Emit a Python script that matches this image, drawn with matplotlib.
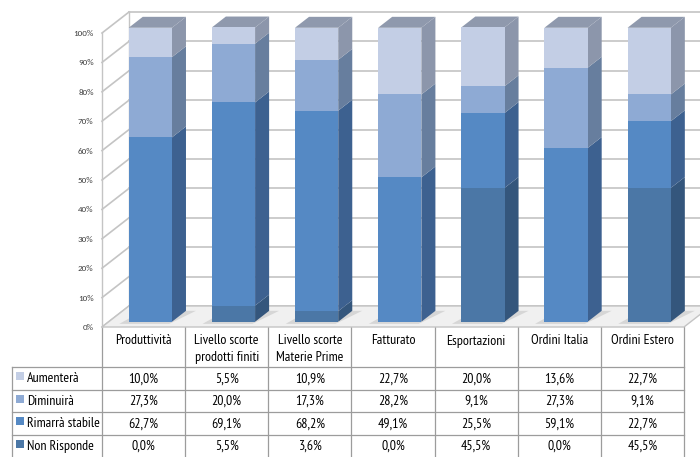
import numpy as np
import matplotlib
matplotlib.use("Agg")
import matplotlib.pyplot as plt
from matplotlib.patches import Polygon, Rectangle

# ---------------- data ----------------
categories = ["Produttività", "Livello scorte\nprodotti finiti", "Livello scorte\nMaterie Prime",
              "Fatturato", "Esportazioni", "Ordini Italia", "Ordini Estero"]
series_names = ["Aumenterà", "Diminuirà", "Rimarrà stabile", "Non Risponde"]
aumentera = [10.0, 5.5, 10.9, 22.7, 20.0, 13.6, 22.7]
diminuira = [27.3, 20.0, 17.3, 28.2, 9.1, 27.3, 9.1]
rimarra_stabile = [62.7, 69.1, 68.2, 49.1, 25.5, 59.1, 22.7]
non_risponde = [0.0, 5.5, 3.6, 0.0, 45.5, 0.0, 45.5]
y_ticks = list(range(0, 101, 10))
y_tick_labels = [f"{v}%" for v in y_ticks]

front_colors = {"Aumenterà": "#c3cee5", "Diminuirà": "#8eaad4",
                "Rimarrà stabile": "#5589c4", "Non Risponde": "#4b77a6"}
side_colors = {"Aumenterà": "#8c96ab", "Diminuirà": "#677e9e",
               "Rimarrà stabile": "#3d6190", "Non Risponde": "#34567c"}
top_color = "#8f99ad"

values = {"Aumenterà": aumentera, "Diminuirà": diminuira,
          "Rimarrà stabile": rimarra_stabile, "Non Risponde": non_risponde}
stack_order = ["Non Risponde", "Rimarrà stabile", "Diminuirà", "Aumenterà"]

TFONT = ["PT Sans Narrow", "DejaVu Sans"]
TICKFONT = ["Carlito", "Liberation Sans", "DejaVu Sans"]
FS = 10

# ---------------- figure ----------------
W, H = 700, 457
fig = plt.figure(figsize=(W / 100, H / 100), dpi=100)
fig.patch.set_facecolor("white")

axt = fig.add_axes([0, 0, 1, 1])
axt.set_xlim(0, W)
axt.set_ylim(H, 0)
axt.axis("off")

L, R, B, T = 102, 684, 327, 33
ax = fig.add_axes([L / W, (H - B) / H, (R - L) / W, (B - T) / H])
ax.set_xlim(-0.5, len(categories) - 0.5)
ax.set_ylim(0, 100)
ax.set_facecolor("none")
for s in ax.spines.values():
    s.set_visible(False)
ax.set_xticks([])
ax.set_yticks(y_ticks)
ax.set_yticklabels(y_tick_labels, fontsize=6.5, color="#404040", family=TICKFONT)
ax.tick_params(axis="y", length=0, pad=6)

o = ax.transData.transform((0, 0))
DX, DY = ax.transData.inverted().transform(o + np.array([27.0, 21.0]))


def P(x, y, d):
    return (x + d * DX, y + d * DY)


n = len(categories)
grid_c = "#c4c4c4"
for v in y_ticks:
    x0, y0 = P(-0.5, v, 1)
    x1, y1 = P(n + 0.5, v, 1)
    ax.plot([x0, x1], [y0, y1], color=grid_c, lw=1.2, clip_on=False, zorder=1)
    xa, ya = P(-0.5, v, 0)
    ax.plot([xa, x0], [ya, y0], color=grid_c, lw=1.2, clip_on=False, zorder=1)
for d in (0, 1):
    xa, ya = P(-0.5, 0, d)
    xb, yb = P(-0.5, 100, d)
    ax.plot([xa, xb], [ya, yb], color=grid_c, lw=1.0, clip_on=False, zorder=1)

floor = Polygon([P(-0.5, 0, 0), P(n - 0.5, 0, 0), P(n - 0.5, 0, 1), P(-0.5, 0, 1)],
                closed=True, facecolor="#f0f0f0", edgecolor=grid_c, lw=1.0,
                clip_on=False, zorder=1.5)
ax.add_patch(floor)

w = 0.52
d0, d1 = 0.25, 0.77
xs = np.arange(n)
for i in range(n):
    sh = Polygon([P(xs[i] - w / 2 - 0.08, 0, d0 - 0.1), P(xs[i] + w / 2, 0, d0 - 0.1),
                  P(xs[i] + w / 2 + 0.12, 0, d1), P(xs[i] - w / 2, 0, d1)],
                 closed=True, facecolor="#d6d6d6", edgecolor="none", clip_on=False, zorder=1.8)
    ax.add_patch(sh)

bottom = np.zeros(n)
for name in stack_order:
    vals = np.array(values[name])
    fx, fy = P(xs, bottom, d0)
    ax.bar(fx, vals, bottom=fy, width=w, color=front_colors[name], edgecolor="none",
           clip_on=False, zorder=3)
    for i in range(n):
        if vals[i] <= 0:
            continue
        xr = xs[i] + w / 2
        side = Polygon([P(xr, bottom[i], d0), P(xr, bottom[i], d1),
                        P(xr, bottom[i] + vals[i], d1), P(xr, bottom[i] + vals[i], d0)],
                       closed=True, facecolor=side_colors[name], edgecolor="none",
                       clip_on=False, zorder=2.5)
        ax.add_patch(side)
    bottom = bottom + vals

for i in range(n):
    top = Polygon([P(xs[i] - w / 2, bottom[i], d0), P(xs[i] + w / 2, bottom[i], d0),
                   P(xs[i] + w / 2, bottom[i], d1), P(xs[i] - w / 2, bottom[i], d1)],
                  closed=True, facecolor=top_color, edgecolor="none", clip_on=False, zorder=2.6)
    ax.add_patch(top)

# ---------------- table ----------------
line_c = "#9c9c9c"
col_w = (R - L) / n
col_edges = [L + k * col_w for k in range(n + 1)]
row_edges = [367, 389.5, 412, 434.5, 457]
tab_left = 12

for xe in col_edges:
    axt.plot([xe, xe], [B, H], color=line_c, lw=0.9)
axt.plot([tab_left, tab_left], [row_edges[0], H], color=line_c, lw=0.9)
for ye in row_edges[:-1]:
    axt.plot([tab_left, R], [ye, ye], color=line_c, lw=0.9)

for i, cat in enumerate(categories):
    cx = (col_edges[i] + col_edges[i + 1]) / 2
    axt.text(cx, 334.5, cat, ha="center", va="top", fontsize=FS, family=TFONT,
             color="#000000", linespacing=1.38)

for r, name in enumerate(series_names):
    y0, y1 = row_edges[r], row_edges[r + 1]
    yc = (y0 + y1) / 2
    axt.add_patch(Rectangle((16, yc - 6), 8, 8, facecolor=front_colors[name], edgecolor="none"))
    axt.text(27, yc + 0.5, name, ha="left", va="center", fontsize=FS, family=TFONT,
             color="#000000")
    for i in range(n):
        cx = (col_edges[i] + col_edges[i + 1]) / 2
        txt = f"{values[name][i]:.1f}%".replace(".", ",")
        axt.text(cx, yc + 0.5, txt, ha="center", va="center", fontsize=FS, family=TFONT,
                 color="#000000")

fig.savefig("out.png", dpi=100)
